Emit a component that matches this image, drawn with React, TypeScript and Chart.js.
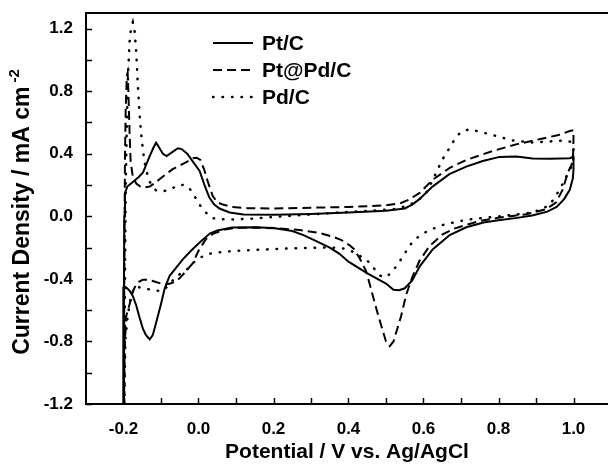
import React, { useEffect, useRef } from "react";
import { Chart, registerables } from "chart.js";

Chart.register(...registerables);

// ---------- data ----------
const seriesLabels = ["Pt/C", "Pt@Pd/C", "Pd/C"];

const ptcX = [
  -0.2, -0.199, -0.198, -0.196, -0.19, -0.175, -0.16, -0.148, -0.131, -0.12, -0.113, -0.105, -0.095, -0.085,
  -0.07, -0.055, -0.045, -0.03, -0.015, 0.003, 0.016, 0.029, 0.042, 0.056, 0.083, 0.12, 0.2, 0.3, 0.4, 0.5,
  0.55, 0.57, 0.589, 0.624, 0.669, 0.714, 0.758, 0.803, 0.847, 0.891, 0.936, 0.99, 1.0,
  1.0, 0.998, 0.99, 0.975, 0.955, 0.93, 0.89, 0.85, 0.8, 0.76, 0.714, 0.67, 0.625, 0.59, 0.57, 0.55, 0.535,
  0.52, 0.5, 0.447, 0.4, 0.376, 0.35, 0.314, 0.28, 0.25, 0.2, 0.15, 0.09, 0.05, 0.03, 0.003, -0.02, -0.042,
  -0.06, -0.077, -0.09, -0.1, -0.113, -0.122, -0.13, -0.14, -0.148, -0.158, -0.166, -0.175, -0.184, -0.193,
  -0.199, -0.2, -0.201,
];
const ptcY = [
  -1.25, -0.6, 0.0, 0.15, 0.19, 0.22, 0.25, 0.28, 0.38, 0.44, 0.47, 0.44, 0.4, 0.385,
  0.41, 0.435, 0.43, 0.4, 0.35, 0.29, 0.2, 0.12, 0.075, 0.05, 0.025, 0.012, 0.01, 0.015, 0.024, 0.035,
  0.05, 0.075, 0.11, 0.19, 0.27, 0.318, 0.354, 0.38, 0.382, 0.37, 0.368, 0.372, 0.38,
  0.3, 0.24, 0.17, 0.11, 0.06, 0.03, 0.005, -0.01, -0.025, -0.04, -0.07, -0.12, -0.21, -0.32, -0.41, -0.46, -0.472,
  -0.47, -0.43, -0.36, -0.29, -0.24, -0.2, -0.158, -0.12, -0.094, -0.075, -0.07, -0.072, -0.09, -0.11, -0.168, -0.22, -0.275,
  -0.33, -0.38, -0.46, -0.56, -0.68, -0.76, -0.787, -0.76, -0.72, -0.64, -0.57, -0.51, -0.475, -0.455,
  -0.45, -0.6, -1.25,
];

const ptpdX = [
  -0.199, -0.198, -0.197, -0.196, -0.194, -0.191, -0.189, -0.187, -0.184, -0.181, -0.175, -0.166, -0.155, -0.145,
  -0.13, -0.115, -0.1, -0.086, -0.07, -0.05, -0.03, -0.015, -0.005, 0.005, 0.015, 0.025, 0.038, 0.05, 0.065,
  0.09, 0.13, 0.2, 0.3, 0.4, 0.5, 0.54, 0.56, 0.59, 0.625, 0.67, 0.714, 0.75, 0.785, 0.847, 0.909, 0.96, 0.99, 1.0,
  1.0, 0.999, 0.995, 0.985, 0.971, 0.954, 0.927, 0.874, 0.803, 0.75, 0.714, 0.68, 0.651, 0.616, 0.589, 0.57,
  0.554, 0.54, 0.53, 0.52, 0.51, 0.5, 0.49, 0.48, 0.465, 0.455, 0.447, 0.43, 0.415, 0.403, 0.38, 0.358, 0.32,
  0.27, 0.225, 0.15, 0.1, 0.07, 0.04, 0.02, 0.0, -0.015, -0.033, -0.05, -0.06, -0.075, -0.086, -0.1, -0.122,
  -0.135, -0.148, -0.16, -0.166, -0.175, -0.18, -0.187, -0.193, -0.197, -0.199,
];
const ptpdY = [
  -1.25, -0.5, 0.0, 0.4, 0.7, 0.9, 0.92, 0.8, 0.55, 0.35, 0.25, 0.21, 0.19, 0.185,
  0.19, 0.215, 0.245, 0.27, 0.3, 0.325, 0.35, 0.372, 0.375, 0.36, 0.3, 0.22, 0.13, 0.09, 0.075,
  0.06, 0.052, 0.05, 0.055, 0.06, 0.07, 0.085, 0.105, 0.15, 0.235, 0.31, 0.36, 0.39, 0.418, 0.46, 0.493, 0.52, 0.545, 0.55,
  0.5, 0.4, 0.33, 0.28, 0.17, 0.09, 0.045, 0.013, -0.008, -0.03, -0.055, -0.08, -0.115, -0.19, -0.286, -0.39,
  -0.5, -0.64, -0.72, -0.8, -0.83, -0.8, -0.72, -0.64, -0.51, -0.42, -0.35, -0.27, -0.21, -0.185, -0.15, -0.13, -0.105,
  -0.088, -0.079, -0.072, -0.074, -0.085, -0.11, -0.145, -0.22, -0.3, -0.35, -0.395, -0.415, -0.43, -0.435, -0.43, -0.414,
  -0.405, -0.405, -0.42, -0.435, -0.48, -0.53, -0.59, -0.64, -0.85, -1.25,
];

const pdX = [
  -0.198, -0.196, -0.194, -0.191, -0.188, -0.184, -0.18, -0.175, -0.171, -0.166, -0.162, -0.157, -0.153, -0.148,
  -0.144, -0.139, -0.13, -0.113, -0.095, -0.077, -0.065, -0.051, -0.04, -0.029, -0.018, -0.006, 0.007, 0.02, 0.032,
  0.047, 0.09, 0.136, 0.225, 0.3, 0.358, 0.447, 0.52, 0.56, 0.585, 0.607, 0.62, 0.634, 0.651, 0.67, 0.685, 0.7,
  0.723, 0.758, 0.794, 0.838, 0.891, 0.945, 0.98, 0.994, 1.0,
  1.0, 0.998, 0.99, 0.98, 0.963, 0.936, 0.891, 0.803, 0.714, 0.651, 0.62, 0.598, 0.572, 0.554, 0.536, 0.518, 0.5,
  0.485, 0.474, 0.46, 0.447, 0.42, 0.403, 0.385, 0.358, 0.314, 0.225, 0.15, 0.091, 0.05, 0.02, -0.006, -0.02,
  -0.033, -0.05, -0.062, -0.077, -0.095, -0.104, -0.12, -0.139, -0.157, -0.166, -0.175, -0.18, -0.189, -0.195, -0.198,
];
const pdY = [
  -1.25, -0.4, 0.2, 0.6, 0.9, 1.11, 1.2, 1.24, 1.2, 1.05, 0.85, 0.65, 0.53, 0.42,
  0.35, 0.29, 0.22, 0.165, 0.16, 0.17, 0.185, 0.203, 0.2, 0.192, 0.16, 0.11, 0.06, 0.024, -0.005,
  -0.018, -0.02, -0.016, 0.0, 0.012, 0.022, 0.034, 0.045, 0.07, 0.1, 0.15, 0.21, 0.28, 0.365, 0.44, 0.5, 0.54,
  0.557, 0.536, 0.514, 0.485, 0.472, 0.48, 0.485, 0.475, 0.45,
  0.4, 0.33, 0.3, 0.25, 0.17, 0.07, 0.024, 0.0, -0.022, -0.055, -0.085, -0.11, -0.158, -0.222, -0.29, -0.35, -0.39,
  -0.38, -0.35, -0.31, -0.275, -0.24, -0.215, -0.205, -0.2, -0.2, -0.207, -0.215, -0.222, -0.232, -0.243, -0.28, -0.31,
  -0.345, -0.37, -0.39, -0.435, -0.475, -0.478, -0.47, -0.465, -0.455, -0.446, -0.48, -0.51, -0.64, -0.79, -1.25,
];

const xMajorTicks = [-0.2, 0.0, 0.2, 0.4, 0.6, 0.8, 1.0];
const xMinorTicks = [-0.1, 0.1, 0.3, 0.5, 0.7, 0.9];
const yMajorTicks = [-1.2, -0.8, -0.4, 0.0, 0.4, 0.8, 1.2];
const yMinorTicks = [-1.0, -0.6, -0.2, 0.2, 0.6, 1.0];

const xTitle = "Potential / V vs. Ag/AgCl";
const yTitleMain = "Current Density / mA cm";
const yTitleSup = "-2";

// ---------- helpers ----------
const FONT = 'Arial, "Liberation Sans", Helvetica, sans-serif';
const toPoints = (xs: number[], ys: number[]) => xs.map((x, i) => ({ x, y: ys[i] }));

const framePlugin = {
  id: "frame",
  afterDraw(chart: any) {
    const { ctx, chartArea, scales } = chart;
    const { left, right, top, bottom } = chartArea;
    ctx.save();
    ctx.strokeStyle = "#000";
    ctx.fillStyle = "#000";
    // top border
    ctx.lineWidth = 2;
    ctx.setLineDash([]);
    ctx.beginPath();
    ctx.moveTo(left - 1, top);
    ctx.lineTo(right, top);
    ctx.stroke();
    // inward ticks
    ctx.lineWidth = 1.5;
    const tl = 6;
    const xs = scales.x;
    const ys = scales.y;
    [...xMajorTicks, ...xMinorTicks].forEach((v) => {
      const px = Math.round(xs.getPixelForValue(v)) + 0.5;
      ctx.beginPath();
      ctx.moveTo(px, bottom);
      ctx.lineTo(px, bottom - tl);
      ctx.stroke();
    });
    [...yMajorTicks, ...yMinorTicks].forEach((v) => {
      const py = Math.round(ys.getPixelForValue(v)) + 0.5;
      ctx.beginPath();
      ctx.moveTo(left, py);
      ctx.lineTo(left + tl, py);
      ctx.stroke();
    });
    // legend
    chart.data.datasets.forEach((ds: any, i: number) => {
      const y = top + 30 + i * 27;
      ctx.lineWidth = ds.borderWidth;
      ctx.lineCap = ds.borderCapStyle || "butt";
      ctx.setLineDash(ds.borderDash || []);
      ctx.beginPath();
      ctx.moveTo(left + 127, y);
      ctx.lineTo(left + 167, y);
      ctx.stroke();
      ctx.setLineDash([]);
      ctx.lineCap = "butt";
      ctx.font = `bold 21px ${FONT}`;
      ctx.textBaseline = "middle";
      ctx.textAlign = "left";
      ctx.fillText(ds.label, left + 176, y + 1);
    });
    // y title with superscript
    ctx.save();
    ctx.translate(23, 212);
    ctx.rotate(-Math.PI / 2);
    ctx.font = `bold 23px ${FONT}`;
    const wMain = ctx.measureText(yTitleMain).width;
    ctx.font = `bold 15px ${FONT}`;
    const wSup = ctx.measureText(yTitleSup).width;
    const gap = 4;
    const total = wMain + gap + wSup;
    ctx.textBaseline = "middle";
    ctx.textAlign = "left";
    ctx.font = `bold 23px ${FONT}`;
    ctx.fillText(yTitleMain, -total / 2, 0);
    ctx.font = `bold 15px ${FONT}`;
    ctx.fillText(yTitleSup, -total / 2 + wMain + gap, -8);
    ctx.restore();
    ctx.restore();
  },
};

export default function App() {
  const ref = useRef<HTMLCanvasElement | null>(null);
  useEffect(() => {
    if (!ref.current) return;
    const tickFont = { family: FONT, size: 17, weight: "bold" as const };
    const chart = new Chart(ref.current, {
      type: "scatter",
      data: {
        datasets: [
          {
            label: seriesLabels[0],
            data: toPoints(ptcX, ptcY),
            showLine: true,
            borderColor: "#000",
            backgroundColor: "#000",
            borderWidth: 2,
            pointRadius: 0,
            tension: 0,
            fill: false,
          },
          {
            label: seriesLabels[1],
            data: toPoints(ptpdX, ptpdY),
            showLine: true,
            borderColor: "#000",
            backgroundColor: "#000",
            borderWidth: 2,
            borderDash: [9, 5],
            pointRadius: 0,
            tension: 0,
            fill: false,
          },
          {
            label: seriesLabels[2],
            data: toPoints(pdX, pdY),
            showLine: true,
            borderColor: "#000",
            backgroundColor: "#000",
            borderWidth: 2.5,
            borderDash: [0.5, 9],
            borderCapStyle: "round",
            pointRadius: 0,
            tension: 0,
            fill: false,
          },
        ],
      },
      options: {
        animation: false,
        responsive: false,
        maintainAspectRatio: false,
        layout: { padding: { top: 13, right: 0, bottom: 0, left: 0 } },
        plugins: { legend: { display: false }, tooltip: { enabled: false } },
        scales: {
          x: {
            type: "linear",
            min: -0.3,
            max: 1.092,
            afterBuildTicks: (s: any) => {
              s.ticks = xMajorTicks.map((v) => ({ value: v }));
            },
            afterFit: (s: any) => {
              s.height = 61;
              s.paddingLeft = 0;
              s.paddingRight = 0;
            },
            grid: { display: false, drawTicks: false },
            border: { display: true, color: "#000", width: 2 },
            ticks: {
              font: tickFont,
              color: "#000",
              padding: 15,
              maxRotation: 0,
              autoSkip: false,
              callback: (v: any) => Number(v).toFixed(1),
            },
            title: {
              display: true,
              text: xTitle,
              color: "#000",
              font: { family: FONT, size: 21, weight: "bold" },
              padding: { top: 0, bottom: 0 },
            },
          },
          y: {
            type: "linear",
            min: -1.2,
            max: 1.3,
            afterBuildTicks: (s: any) => {
              s.ticks = yMajorTicks.map((v) => ({ value: v }));
            },
            afterFit: (s: any) => {
              s.width = 86;
              s.paddingTop = 0;
              s.paddingBottom = 0;
            },
            grid: { display: false, drawTicks: false },
            border: { display: true, color: "#000", width: 2 },
            ticks: {
              font: tickFont,
              color: "#000",
              padding: 13,
              autoSkip: false,
              callback: (v: any) => Number(v).toFixed(1),
            },
          },
        },
      },
      plugins: [framePlugin],
    });
    return () => chart.destroy();
  }, []);
  return (
    <div style={{ position: "absolute", left: 0, top: 0, width: 608, height: 465, background: "#fff" }}>
      <canvas ref={ref} width={608} height={465} style={{ display: "block" }} />
    </div>
  );
}
